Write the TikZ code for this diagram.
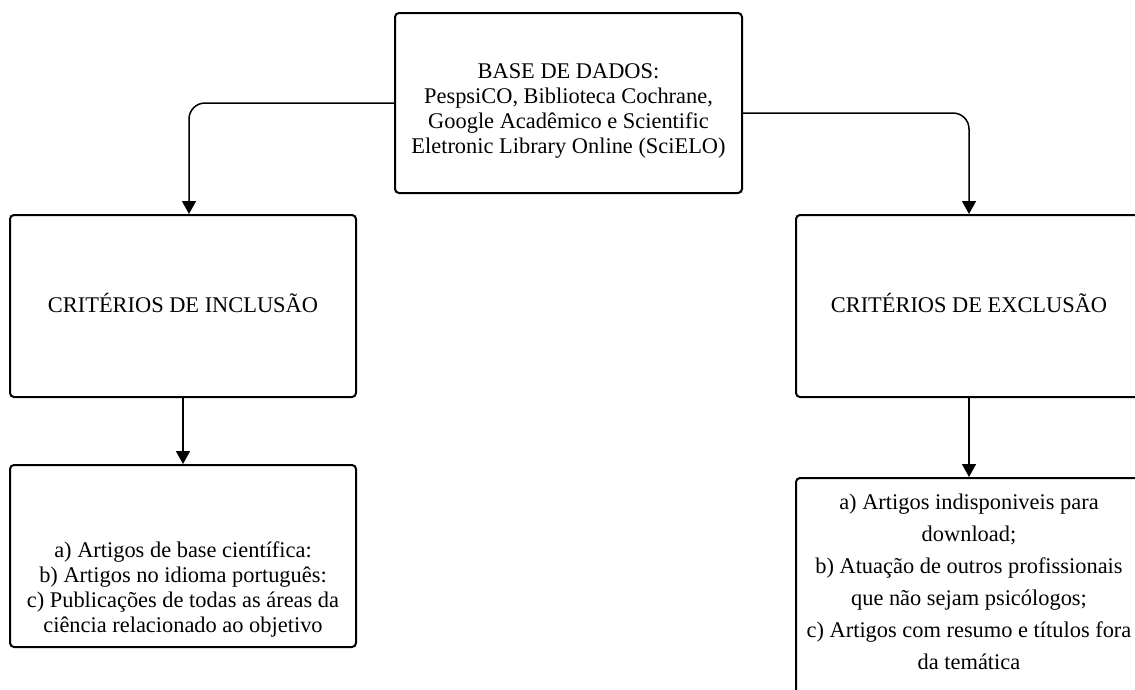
\documentclass[tikz,border=0pt]{standalone}
\usepackage{fontspec}
\setmainfont{Liberation Serif}
\usetikzlibrary{arrows.meta}

\tikzset{
    card/.style={draw, line width=2pt, rounded corners=4pt,
        minimum width=346pt, inner sep=0pt},
    cardtext/.style={align=center, inner sep=0pt, font=\fontsize{22.4}{25}\selectfont},
    link/.style={line width=1.5pt, -{Triangle[length=13pt,width=14pt]}}
}

\begin{document}
\begin{tikzpicture}[x=1pt, y=-1pt]
    \useasboundingbox (0, 0) rectangle (1135, 689);
    % Data sources
    \node[card, minimum width=347pt, minimum height=180pt] (Base) at (568.5, 103) {};
    \node[cardtext] (Base-text) at ([yshift=-8pt]Base.center)
        {BASE DE DADOS:\\PespsiCO, Biblioteca Cochrane,\\Google Acadêmico e Scientific\\Eletronic Library Online (SciELO)};
    % Inclusion side
    \node[card, minimum height=182pt] (Inclusion) at (183, 306) {};
    \node[cardtext] (Inclusion-text) at ([yshift=3pt]Inclusion.center) {CRITÉRIOS DE INCLUSÃO};
    \node[card, minimum height=182pt] (Inclusion-list) at (183, 556) {};
    \node[cardtext] (Inclusion-list-text) at ([yshift=-33pt]Inclusion-list.center)
        {a) Artigos de base científica:\\b) Artigos no idioma português:\\c) Publicações de todas as áreas da\\ciência relacionado ao objetivo};
    % Exclusion side
    \node[card, minimum height=182pt] (Exclusion) at (969, 306) {};
    \node[cardtext] (Exclusion-text) at ([yshift=3pt]Exclusion.center) {CRITÉRIOS DE EXCLUSÃO};
    \node[card, minimum height=216pt] (Exclusion-list) at (969, 586) {};
    \node[cardtext, font=\fontsize{22.4}{32}\selectfont] (Exclusion-list-text) at ([yshift=4pt]Exclusion-list.center)
        {a) Artigos indisponiveis para\\download;\\b) Atuação de outros profissionais\\que não sejam psicólogos;\\c) Artigos com resumo e títulos fora\\da temática};

    % Connect boxes
    \draw[link, rounded corners=16pt] (Base.west) -| ([xshift=6pt]Inclusion.north);
    \draw[link, rounded corners=16pt] ([yshift=-10pt]Base.east) -| (Exclusion.north);
    \draw[link] (Inclusion.south) -- (Inclusion-list.north);
    \draw[link] (Exclusion.south) -- (Exclusion-list.north);
\end{tikzpicture}
\end{document}
